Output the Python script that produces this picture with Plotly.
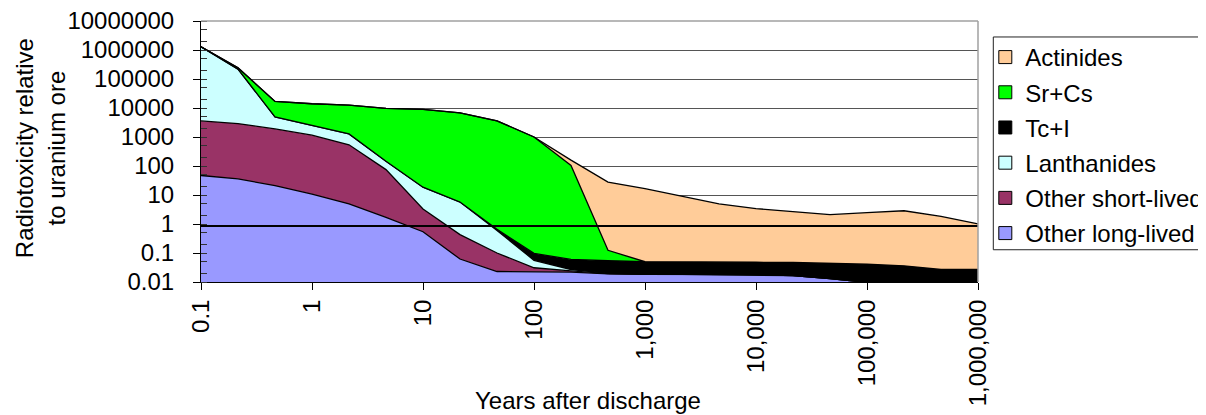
import plotly.graph_objects as go

# ---- data -------------------------------------------------------------
years = ["0.1", "0.2", "0.5", "1", "2", "5", "10", "20", "50", "100", "200", "500",
         "1,000", "2,000", "5,000", "10,000", "20,000", "50,000", "100,000",
         "200,000", "500,000", "1,000,000"]
tick_years = ["0.1", "1", "10", "100", "1,000", "10,000", "100,000", "1,000,000"]

other_long_lived = [47, 36, 21, 10.8, 4.9, 1.7, 0.54, 0.062, 0.023, 0.023, 0.022, 0.019,
                    0.0185, 0.0185, 0.018, 0.018, 0.0165, 0.0132, 0.0097, 0.008, 0.007, 0.006]
other_short_lived = [3550, 2860, 1880, 1140, 535, 73.3, 2.76, 0.368, 0.077, 0.008, 0.002, 0.0005,
                     0, 0, 0, 0, 0, 0, 0, 0, 0, 0]
lanthanides = [1296400, 217100, 3000, 1350, 740, 70, 15.2, 5.27, 0.50, 0.025, 0.003, 0.0005,
               0, 0, 0, 0, 0, 0, 0, 0, 0, 0]
tc_i = [0.06, 0.06, 0.06, 0.06, 0.06, 0.06, 0.06, 0.06, 0.06, 0.041, 0.033, 0.034,
        0.0315, 0.0315, 0.032, 0.030, 0.0305, 0.0308, 0.0313, 0.028, 0.020, 0.021]
sr_cs = [0, 25000, 11900, 11500, 11220, 9555, 8881, 6794, 3599, 1000, 104, 0.070,
         0, 0, 0, 0, 0, 0, 0, 0, 0, 0]
actinides = [0, 0, 0, 0, 0, 0, 0, 0, 0, 0, 56, 27.9,
             16.45, 8.95, 4.85, 3.35, 2.55, 2.06, 2.41, 2.83, 1.80, 0.99]
ore_level = 0.85

y_tick_vals = [0.01, 0.1, 1, 10, 100, 1000, 10000, 100000, 1000000, 10000000]
y_tick_text = ["0.01", "0.1", "1", "10", "100", "1000", "10000", "100000",
               "1000000", "10000000"]

series = [
    ("Other long-lived", other_long_lived, "#9999FF"),
    ("Other short-lived", other_short_lived, "#993366"),
    ("Lanthanides", lanthanides, "#CCFFFF"),
    ("Tc+I", tc_i, "#000000"),
    ("Sr+Cs", sr_cs, "#00FF00"),
    ("Actinides", actinides, "#FFCC99"),
]

# ---- geometry (pixels, in window coordinates) ------------------------
OFF = 8  # page body margin in the browser
W, H = 1206 - OFF, 415 - OFF
PL, PR, PT, PB = 200.7, 977.7, 21.0, 282.3
pw, ph = PR - PL, PB - PT


def px_x(x):
    return (x - PL) / pw


def px_y(y):
    return (PB - y) / ph


FONT = "Liberation Sans, Arial, sans-serif"

fig = go.Figure()
for name, vals, col in series:
    fig.add_trace(go.Scatter(
        x=years, y=vals, name=name, stackgroup="one", mode="lines",
        line=dict(color="black", width=1.3), fillcolor=col, showlegend=False,
        hoverinfo="x+y+name"))

fig.add_trace(go.Scatter(x=years, y=[ore_level] * len(years), mode="lines",
                         line=dict(color="black", width=2), showlegend=False,
                         hoverinfo="skip"))

# legend entries (squares)
for name, vals, col in reversed(series):
    fig.add_trace(go.Scatter(x=[None], y=[None], mode="markers", name=name,
                             legendgroup=name,
                             marker=dict(symbol="square", size=13, color=col,
                                         line=dict(color="black", width=1))))

fig.update_layout(
    width=W, height=H,
    margin=dict(l=PL - OFF, r=(1206 - PR), t=PT - OFF, b=(415 - PB), autoexpand=False),
    paper_bgcolor="white", plot_bgcolor="white",
    font=dict(family=FONT, size=24, color="black"),
    showlegend=True,
    legend=dict(x=px_x(985), y=px_y(35), xanchor="left", yanchor="top",
                bgcolor="rgba(0,0,0,0)", borderwidth=0,
                font=dict(family=FONT, size=24, color="black"),
                traceorder="grouped", tracegroupgap=1, itemsizing="trace"),
    xaxis=dict(type="category", categoryorder="array", categoryarray=years,
               range=[0, len(years) - 1], tickmode="array", tickvals=tick_years,
               ticktext=tick_years, tickangle=-90, ticks="outside", ticklen=7,
               tickcolor="black", showline=True, linecolor="black", linewidth=1,
               showgrid=False, zeroline=False, ticklabeloverflow="allow",
               tickfont=dict(family=FONT, size=24, color="black")),
    yaxis=dict(type="log", range=[-2, 7], tickmode="array",
               tickvals=y_tick_vals, ticktext=y_tick_text,
               ticks="outside", ticklen=7, tickcolor="black",
               showline=True, linecolor="black", linewidth=1,
               showgrid=True, gridcolor="#555555", gridwidth=1, zeroline=False,
               minor=dict(ticks="inside", ticklen=6, tickcolor="#333333", showgrid=False),
               ticklabelstandoff=14, ticklabeloverflow="allow",
               tickfont=dict(family=FONT, size=24, color="black")),
    shapes=[
        dict(type="line", xref="paper", yref="paper", x0=0, x1=1, y0=1, y1=1,
             line=dict(color="#A0A0A0", width=1.5), layer="above"),
        dict(type="line", xref="paper", yref="paper", x0=1, x1=1, y0=0, y1=1,
             line=dict(color="#A0A0A0", width=1.5), layer="above"),
        dict(type="rect", xref="paper", yref="paper", x0=px_x(993), x1=px_x(1230),
             y0=px_y(250), y1=px_y(37), line=dict(color="#222222", width=1),
             fillcolor="rgba(0,0,0,0)", layer="above"),
    ],
    annotations=[
        dict(text="Radiotoxicity relative<br>to uranium ore", textangle=-90,
             xref="paper", yref="paper", x=px_x(40), y=px_y(148),
             xanchor="center", yanchor="middle", showarrow=False,
             font=dict(family=FONT, size=24, color="black")),
        dict(text="Years after discharge", xref="paper", yref="paper",
             x=px_x(587.5), y=px_y(401), xanchor="center", yanchor="middle",
             showarrow=False, font=dict(family=FONT, size=24, color="black")),
    ],
)

fig.write_html("out.html")
